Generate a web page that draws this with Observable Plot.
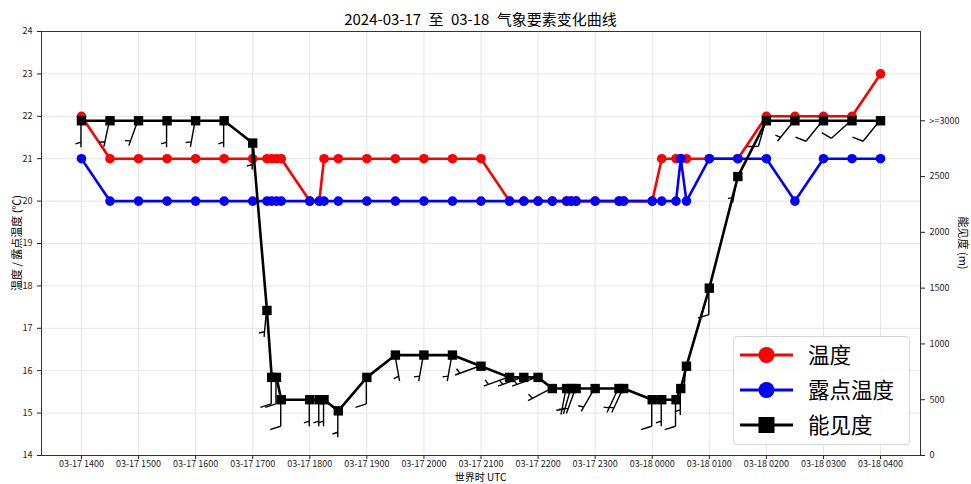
<!DOCTYPE html>
<html>
<head>
<meta charset="utf-8">
<script src="https://cdn.jsdelivr.net/npm/d3@7"></script>
<script src="https://cdn.jsdelivr.net/npm/@observablehq/plot@0.6"></script>
<style>
  body { margin: 0; background: #fff; }
  #wrap { position: relative; width: 971px; height: 484px; font-family: 'Noto Sans CJK SC', 'DejaVu Sans', sans-serif; }
  #title { position: absolute; left: 0; top: 9px; width: 961px; text-align: center; font-size: 15px; line-height: 20px; color: #000; word-spacing: 4px; }
  #xlabel { position: absolute; left: 0; top: 471px; width: 961px; text-align: center; font-size: 10px; line-height: 11px; color: #000; }
  .ylab { position: absolute; top: 243px; font-size: 11px; line-height: 13px; white-space: nowrap; color: #000; }
  #ylabelL { left: 16px; transform: translate(-50%, -50%) rotate(-90deg); }
  #ylabelR { left: 963px; transform: translate(-50%, -50%) rotate(90deg); }
  #legend { position: absolute; left: 733px; top: 336px; width: 177px; height: 109px; border: 1px solid #d6d6d6; border-radius: 4px; background: rgba(255,255,255,0.85); box-sizing: border-box; }
</style>
</head>
<body>
<div id="wrap">
  <div id="chart"></div>
  <div id="title">2024-03-17 至 03-18 气象要素变化曲线</div>
  <div id="xlabel">世界时 UTC</div>
  <div id="ylabelL" class="ylab">温度 / 露点温度 (℃)</div>
  <div id="ylabelR" class="ylab">能见度 (m)</div>
  <div id="legend"></div>
</div>
<script>
// ---- data ----
const times = ["03-17 14:00","03-17 14:30","03-17 15:00","03-17 15:30","03-17 16:00","03-17 16:30","03-17 17:00","03-17 17:15","03-17 17:20","03-17 17:25","03-17 17:30","03-17 18:00","03-17 18:10","03-17 18:15","03-17 18:30","03-17 19:00","03-17 19:30","03-17 20:00","03-17 20:30","03-17 21:00","03-17 21:30","03-17 21:45","03-17 22:00","03-17 22:15","03-17 22:30","03-17 22:35","03-17 22:40","03-17 23:00","03-17 23:25","03-17 23:30","03-18 00:00","03-18 00:10","03-18 00:25","03-18 00:30","03-18 00:36","03-18 01:00","03-18 01:30","03-18 02:00","03-18 02:30","03-18 03:00","03-18 03:30","03-18 04:00"];
const temperature = [22,21,21,21,21,21,21,21,21,21,21,20,20,21,21,21,21,21,21,21,20,20,20,20,20,20,20,20,20,20,20,21,21,21,21,21,21,22,22,22,22,23];
const dewpoint = [21,20,20,20,20,20,20,20,20,20,20,20,20,20,20,20,20,20,20,20,20,20,20,20,20,20,20,20,20,20,20,20,20,21,20,21,21,21,20,21,21,21];
const visibility = [3000,3000,3000,3000,3000,3000,2800,1300,700,700,500,500,500,500,400,700,900,900,900,800,700,700,700,600,600,600,600,600,600,600,500,500,500,600,800,1500,2500,3000,3000,3000,3000,3000];
const windDir = [180,192,200,180,190,180,180,185,180,180,180,180,180,180,180,180,170,190,190,250,250,250,250,242,191,196,200,210,205,205,180,180,180,180,185,180,190,196,219,219,228,219];
const windSpeed = [2,2,2,2,2,2,2,2,4,4,4,2,2,2,2,4,2,2,2,2,2,2,2,2,2,2,2,2,2,2,4,2,4,2,2,4,2,4,2,4,4,4];
const tempTicks = [14,15,16,17,18,19,20,21,22,23,24];
const visTicks = [0,500,1000,1500,2000,2500,3000];
const visTickLabels = ["0","500","1000","1500","2000","2500",">=3000"];
const hourTicks = ["03-17 14:00","03-17 15:00","03-17 16:00","03-17 17:00","03-17 18:00","03-17 19:00","03-17 20:00","03-17 21:00","03-17 22:00","03-17 23:00","03-18 00:00","03-18 01:00","03-18 02:00","03-18 03:00","03-18 04:00"];
const xDomain = ["03-17 13:18","03-18 04:42"];
const visMax = 3800;

// ---- helpers ----
const parseT = s => new Date(`2024-${s.slice(0,5)}T${s.slice(6)}:00Z`);
const tMin = tempTicks[0], tMax = tempTicks[tempTicks.length - 1];
const toY = v => tMin + v * (tMax - tMin) / visMax;
const fromY = y => Math.round((y - tMin) * visMax / (tMax - tMin));

const obs = times.map((s, i) => ({
  t: parseT(s), T: temperature[i], D: dewpoint[i], V: visibility[i], vy: toY(visibility[i]),
  dir: windDir[i], spd: windSpeed[i]
}));
const hourDates = hourTicks.map(parseT);
const fmtX = d3.utcFormat("%m-%d %H%M");

// wind barbs drawn through the plot's own x / y scales
function barbMark(index, scales) {
  const X = scales.x, Y = scales.y;
  const g = d3.create("svg:g")
    .attr("fill", "none").attr("stroke", "#000")
    .attr("stroke-width", 1.4).attr("stroke-linecap", "butt");
  const L = 27, H = 10.8, W = 3.4, S = 3.4;
  for (const d of obs) {
    const x0 = X(d.t), y0 = Y(d.vy);
    const a = d.dir * Math.PI / 180;
    const sx = Math.sin(a), sy = -Math.cos(a);
    const px = -sy, py = sx;
    const tx = x0 + L * sx, ty = y0 + L * sy;
    let p = `M${x0},${y0}L${tx},${ty}`;
    const full = Math.floor(d.spd / 4);
    const half = (d.spd % 4) >= 2;
    let off = 0;
    for (let k = 0; k < full; k++) {
      const ax = tx - off * sx, ay = ty - off * sy;
      p += `M${ax},${ay}L${ax + H * px + W * sx},${ay + H * py + W * sy}`;
      off += S;
    }
    if (half) {
      if (full === 0) off = 1.5 * S;
      const ax = tx - off * sx, ay = ty - off * sy;
      p += `M${ax},${ay}L${ax + H / 2 * px + W / 2 * sx},${ay + H / 2 * py + W / 2 * sy}`;
    }
    g.append("path").attr("d", p);
  }
  return g.node();
}

const chart = Plot.plot({
  width: 971,
  height: 484,
  marginTop: 31,
  marginBottom: 29,
  marginLeft: 41,
  marginRight: 51,
  style: { fontFamily: "'Noto Sans CJK SC', 'DejaVu Sans', sans-serif", fontSize: "9px", background: "white", color: "#222" },
  x: { type: "utc", domain: xDomain.map(parseT), axis: null },
  y: { domain: [tMin, tMax], axis: null },
  marks: [
    Plot.gridX(hourDates, { stroke: "#e3e3e3", strokeOpacity: 1, strokeWidth: 0.9 }),
    Plot.gridY(tempTicks, { stroke: "#e3e3e3", strokeOpacity: 1, strokeWidth: 0.9 }),
    Plot.line(obs, { x: "t", y: "T", stroke: "#ff0000", strokeWidth: 2.6 }),
    Plot.dot(obs, { x: "t", y: "T", fill: "#ff0000", r: 4.8 }),
    Plot.line(obs, { x: "t", y: "D", stroke: "#0000ff", strokeWidth: 2.6 }),
    Plot.dot(obs, { x: "t", y: "D", fill: "#0000ff", r: 4.8 }),
    Plot.line(obs, { x: "t", y: "vy", stroke: "#000", strokeWidth: 2.6 }),
    Plot.dot(obs, { x: "t", y: "vy", fill: "#000", symbol: "square", r: 5.3 }),
    barbMark,
    Plot.axisX(hourDates, { tickFormat: fmtX, tickSize: 4, tickPadding: 1, fontSize: 9, label: null }),
    Plot.axisY(tempTicks, { anchor: "left", tickSize: 4, fontSize: 9, label: null }),
    Plot.axisY(visTicks.map(toY), { anchor: "right", tickSize: 4, fontSize: 9,
      tickFormat: y => visTickLabels[visTicks.indexOf(fromY(y))], label: null }),
    Plot.frame({ stroke: "#333", strokeWidth: 1 })
  ]
});
document.getElementById("chart").appendChild(chart);

// legend
const legendItems = [
  { name: "温度", color: "#ff0000", shape: "circle" },
  { name: "露点温度", color: "#0000ff", shape: "circle" },
  { name: "能见度", color: "#000000", shape: "square" }
];
const lg = d3.select("#legend").append("svg").attr("width", 175).attr("height", 107);
legendItems.forEach((it, i) => {
  const cy = 18 + i * 35;
  const row = lg.append("g");
  row.append("line").attr("x1", 6).attr("x2", 59).attr("y1", cy).attr("y2", cy)
    .attr("stroke", it.color).attr("stroke-width", 2.8);
  if (it.shape === "circle") row.append("circle").attr("cx", 32.5).attr("cy", cy).attr("r", 8).attr("fill", it.color);
  else row.append("rect").attr("x", 24.5).attr("y", cy - 8).attr("width", 16).attr("height", 16).attr("fill", it.color);
  row.append("text").attr("x", 74).attr("y", cy).attr("dy", "0.36em")
    .attr("font-size", 21.5).attr("font-family", "'Noto Sans CJK SC', sans-serif").attr("fill", "#000").text(it.name);
});
</script>
</body>
</html>
